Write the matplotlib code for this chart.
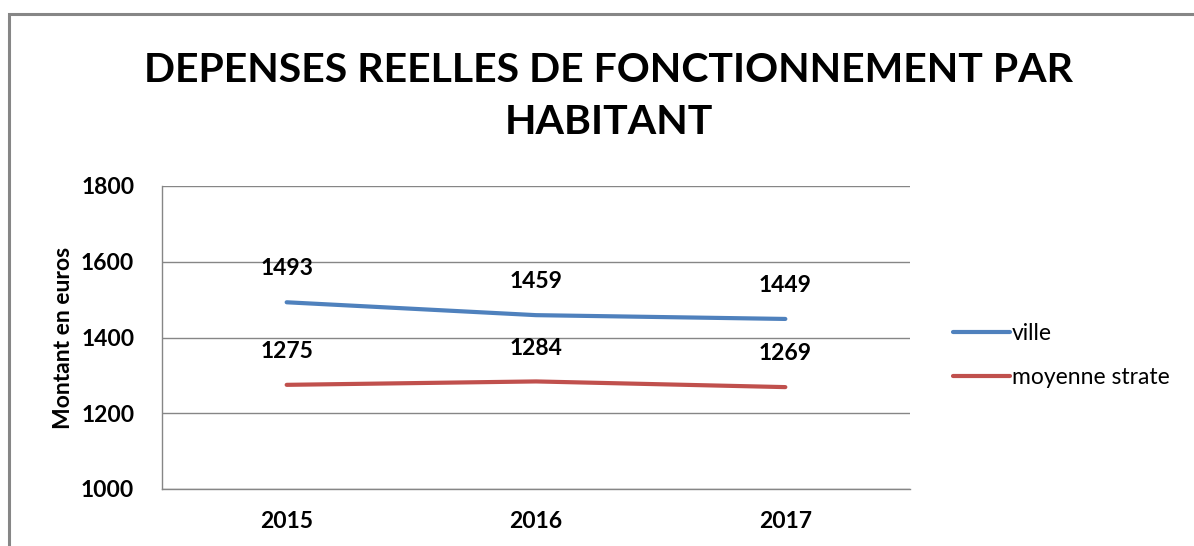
import matplotlib
matplotlib.use("Agg")
import matplotlib.pyplot as plt
from matplotlib.patches import Rectangle

plt.rcParams['font.family'] = ['Lato', 'DejaVu Sans']

# Data
years = ['2015', '2016', '2017']
ville = [1493, 1459, 1449]
moyenne_strate = [1275, 1284, 1269]
y_ticks = [1000, 1200, 1400, 1600, 1800]

W, H = 1194, 546
fig = plt.figure(figsize=(W / 100, H / 100), dpi=100)
ax = fig.add_axes([162 / W, 1 - 489 / H, (910 - 162) / W, (489 - 186) / H])

# outer chart border (runs off the right and bottom of the image)
fig.patches.append(Rectangle((9 / W, -0.05), 1.1, 1 - 14 / H + 0.05,
                             transform=fig.transFigure, fill=False,
                             edgecolor='#868686', linewidth=2.2, clip_on=False))

x = list(range(len(years)))
ax.plot(x, ville, color='#4F81BD', linewidth=3.0, solid_capstyle='round', label='ville')
ax.plot(x, moyenne_strate, color='#C0504D', linewidth=3.0, solid_capstyle='round',
        label='moyenne strate')

for xi, v in zip(x, ville):
    ax.annotate(str(v), (xi, v), xytext=(0, 24), textcoords='offset points',
                ha='center', va='center', fontsize=16.5, fontweight='bold')
for xi, v in zip(x, moyenne_strate):
    ax.annotate(str(v), (xi, v), xytext=(0, 24), textcoords='offset points',
                ha='center', va='center', fontsize=16.5, fontweight='bold')

ax.set_xlim(-0.5, 2.5)
ax.set_ylim(1000, 1800)
ax.set_yticks(y_ticks)
ax.set_xticks(x)
ax.set_xticklabels(years)
ax.tick_params(axis='both', length=0, labelsize=16.5)
ax.tick_params(axis='y', pad=20)
ax.tick_params(axis='x', pad=16)
for lab in ax.get_xticklabels() + ax.get_yticklabels():
    lab.set_fontweight('bold')
ax.grid(axis='y', color='#868686', linewidth=1)
ax.set_axisbelow(True)
for s in ['top', 'right']:
    ax.spines[s].set_visible(False)
for s in ['left', 'bottom']:
    ax.spines[s].set_color('#868686')
    ax.spines[s].set_linewidth(1)

ax.set_ylabel('Montant en euros', fontsize=16.5, fontweight='bold', labelpad=5)

fig.text(609 / W, 1 - 70 / H, 'DEPENSES REELLES DE FONCTIONNEMENT PAR',
         ha='center', va='center', fontsize=29.5, fontweight='bold')
fig.text(609 / W, 1 - 123 / H, 'HABITANT',
         ha='center', va='center', fontsize=29.5, fontweight='bold')

ax.legend(loc='center left', bbox_to_anchor=(1.03, 0.44), frameon=False,
          fontsize=16.5, handlelength=2.5, handletextpad=0.05, labelspacing=1.0)

fig.savefig('out.png', dpi=100)
